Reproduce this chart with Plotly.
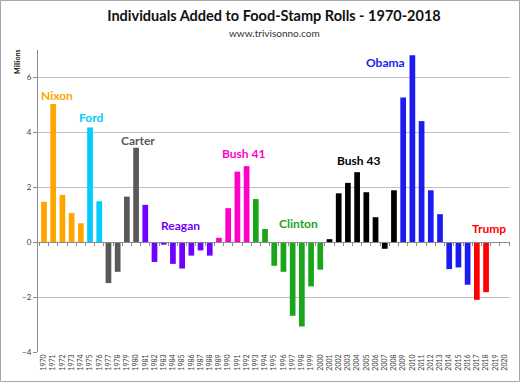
import plotly.graph_objects as go

years = list(range(1970, 2021))
values = [1.47, 5.03, 1.72, 1.06, 0.69, 4.18, 1.49, -1.49, -1.08, 1.66,
          3.44, 1.36, -0.72, -0.09, -0.79, -0.96, -0.49, -0.30, -0.49, 0.16,
          1.24, 2.57, 2.77, 1.57, 0.48, -0.86, -1.08, -2.68, -3.07, -1.61,
          -1.00, 0.11, 1.78, 2.16, 2.55, 1.82, 0.91, -0.24, 1.89, 5.27,
          6.81, 4.41, 1.89, 1.02, -0.98, -0.92, -1.55, -2.10, -1.82, None, None]

presidents = ["Nixon", "Ford", "Carter", "Reagan", "Bush 41", "Clinton", "Bush 43", "Obama", "Trump"]
start_years = [1970, 1975, 1977, 1981, 1989, 1993, 2001, 2009, 2017]
pres_colors = ["#FFA500", "#00CCFF", "#595959", "#7000FF", "#FF00CC", "#1AA51A", "#000000", "#1C1CF0", "#FF0000"]
# label anchor positions (x in years, y in millions)
label_x = [1971.4, 1975.1, 1980.2, 1984.8, 1991.7, 1997.6, 2004.2, 2007.1, 2018.3]
label_y = [5.33, 4.55, 3.72, 0.60, 3.22, 0.68, 2.97, 6.55, 0.49]


def color_for(y):
    c = pres_colors[0]
    for s, col in zip(start_years, pres_colors):
        if y >= s:
            c = col
    return c


bar_colors = [color_for(y) for y in years]

fig = go.Figure()
fig.add_trace(go.Bar(x=years, y=values, marker=dict(color=bar_colors, line=dict(width=0)),
                     showlegend=False, hoverinfo="x+y"))
# helper trace for the zero-line axis
fig.add_trace(go.Scatter(x=[years[0]], y=[0], xaxis="x2", mode="markers",
                         marker=dict(opacity=0), showlegend=False, hoverinfo="skip"))

for name, col, lx, ly in zip(presidents, pres_colors, label_x, label_y):
    fig.add_annotation(x=lx, y=ly, text="<b>%s</b>" % name, showarrow=False,
                       xanchor="center", yanchor="middle",
                       font=dict(family="Lato", size=12, color=col))

xr = [1969.35, 2020.6]
fig.update_layout(
    width=520, height=382,
    margin=dict(l=38, r=10, t=50, b=30),
    paper_bgcolor="white", plot_bgcolor="white",
    bargap=0.38,
    title=dict(text="<b>Individuals Added to Food-Stamp Rolls - 1970-2018</b>",
               x=0.5, xref="paper", xanchor="center", y=0.958, yanchor="middle",
               font=dict(family="Lato", size=14.5, color="#111111")),
    xaxis=dict(range=xr, tickmode="array", tickvals=years, ticktext=[str(y) for y in years],
               tickangle=-90, tickfont=dict(family="Lato", size=7, color="#404040"),
               ticks="", showgrid=False, zeroline=False, showline=False),
    xaxis2=dict(range=xr, overlaying="x", anchor="free", position=4 / 11, side="bottom",
                tickmode="array", tickvals=[y - 0.5 for y in years] + [2020.5],
                ticks="outside", ticklen=3, tickcolor="#8C8C8C", showticklabels=False,
                showline=True, linecolor="#8C8C8C", linewidth=1, showgrid=False, zeroline=False),
    yaxis=dict(range=[-4, 7], tickmode="array", tickvals=[-4, -2, 0, 2, 4, 6],
               tickfont=dict(family="Lato", size=8, color="#404040"),
               showgrid=True, gridcolor="#C0C0C0", gridwidth=1, zeroline=False,
               showline=True, linecolor="#8C8C8C", ticks="outside", ticklen=4, tickcolor="#8C8C8C"),
)

fig.add_annotation(text="www.trivisonno.com", xref="paper", yref="paper",
                   x=0.5, y=1 + (50 - 33) / 302, showarrow=False, yanchor="middle",
                   font=dict(family="Lato", size=10, color="#333333"))
fig.add_annotation(text="<b>Millions</b>", xref="paper", yref="paper",
                   x=-(38 - 17) / 472, y=1 + (50 - 62) / 302, showarrow=False, textangle=-90,
                   xanchor="center", yanchor="middle",
                   font=dict(family="Lato", size=7, color="#111111"))

fig.add_shape(type="rect", xref="paper", yref="paper",
              x0=-(38 - 0.5) / 472, x1=1 + (10 - 0.5) / 472,
              y0=-(30 - 0.5) / 302, y1=1 + (50 - 0.5) / 302,
              line=dict(color="#A6A6A6", width=1), layer="below")

fig.write_html("out.html", config={"displayModeBar": False},
               post_script="document.body.style.margin='0';document.body.style.overflow='hidden';")
